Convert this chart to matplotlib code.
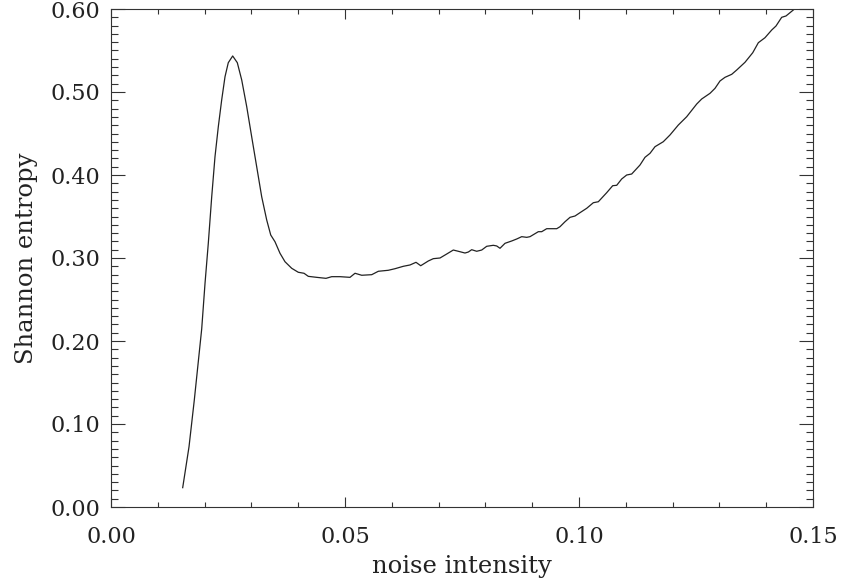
import numpy as np
import matplotlib
matplotlib.use("Agg")
import matplotlib.pyplot as plt
from matplotlib.ticker import MultipleLocator, FormatStrFormatter

# noise intensity vs Shannon entropy
noise = [0.01532, 0.01667, 0.01780, 0.01938, 0.02009, 0.02079, 0.02152, 0.02222,
         0.02293, 0.02365, 0.02436, 0.02506, 0.02600, 0.02699, 0.02793, 0.02900,
         0.03006, 0.03113, 0.03220, 0.03327, 0.03413, 0.03504, 0.03611, 0.03718,
         0.03861, 0.04002, 0.04124, 0.04216, 0.04395, 0.04594, 0.04716, 0.04893,
         0.05107, 0.05214, 0.05357, 0.05571, 0.05712, 0.05925, 0.06068, 0.06246,
         0.06389, 0.06517, 0.06618, 0.06780, 0.06887, 0.07030, 0.07173, 0.07314,
         0.07421, 0.07564, 0.07635, 0.07707, 0.07814, 0.07921, 0.08028, 0.08169,
         0.08242, 0.08312, 0.08419, 0.08562, 0.08669, 0.08776, 0.08883, 0.08953,
         0.09024, 0.09131, 0.09203, 0.09310, 0.09524, 0.09594, 0.09701, 0.09808,
         0.09915, 0.10021, 0.10165, 0.10306, 0.10413, 0.10592, 0.10720, 0.10806,
         0.10912, 0.11019, 0.11126, 0.11303, 0.11410, 0.11517, 0.11624, 0.11801,
         0.11944, 0.12122, 0.12301, 0.12515, 0.12622, 0.12799, 0.12906, 0.13013,
         0.13120, 0.13263, 0.13370, 0.13547, 0.13712, 0.13832, 0.13974, 0.14118,
         0.14209, 0.14331, 0.14423, 0.14579, 0.14658]
entropy = [0.0233, 0.0726, 0.1289, 0.2145, 0.2695, 0.3177, 0.3738, 0.4220,
           0.4582, 0.4904, 0.5184, 0.5353, 0.5434, 0.5353, 0.5145, 0.4823,
           0.4461, 0.4100, 0.3738, 0.3458, 0.3277, 0.3196, 0.3057, 0.2955,
           0.2876, 0.2828, 0.2816, 0.2779, 0.2767, 0.2755, 0.2775, 0.2775,
           0.2767, 0.2816, 0.2792, 0.2799, 0.2840, 0.2852, 0.2871, 0.2900,
           0.2916, 0.2948, 0.2907, 0.2964, 0.2992, 0.3000, 0.3048, 0.3096,
           0.3081, 0.3060, 0.3072, 0.3100, 0.3081, 0.3096, 0.3141, 0.3153,
           0.3145, 0.3117, 0.3177, 0.3205, 0.3229, 0.3257, 0.3249, 0.3257,
           0.3281, 0.3317, 0.3317, 0.3353, 0.3353, 0.3377, 0.3437, 0.3490,
           0.3506, 0.3546, 0.3599, 0.3666, 0.3678, 0.3787, 0.3871, 0.3876,
           0.3952, 0.4000, 0.4012, 0.4120, 0.4213, 0.4261, 0.4341, 0.4401,
           0.4482, 0.4602, 0.4702, 0.4855, 0.4916, 0.4984, 0.5044, 0.5133,
           0.5177, 0.5213, 0.5265, 0.5358, 0.5473, 0.5594, 0.5654, 0.5747,
           0.5795, 0.5900, 0.5916, 0.5988, 0.6024]

plt.rcParams['font.family'] = ['DejaVu Serif']

fig = plt.figure(figsize=(8.45, 5.85), dpi=100)
ax = fig.add_axes([111/845, 1 - 507/585, 702/845, 498/585])

ax.plot(noise, entropy, color='#222222', lw=0.9)

ax.set_xlim(0, 0.15)
ax.set_ylim(0, 0.6)
ax.xaxis.set_major_locator(MultipleLocator(0.05))
ax.xaxis.set_minor_locator(MultipleLocator(0.01))
ax.yaxis.set_major_locator(MultipleLocator(0.1))
ax.yaxis.set_minor_locator(MultipleLocator(0.01))
ax.xaxis.set_major_formatter(FormatStrFormatter('%.2f'))
ax.yaxis.set_major_formatter(FormatStrFormatter('%.2f'))

ax.tick_params(axis='both', which='both', direction='in', top=True, right=True,
               color='#333333', width=0.8, labelcolor='#222222')
ax.tick_params(axis='x', which='major', length=7.2, pad=14, labelsize=16)
ax.tick_params(axis='x', which='minor', length=3.6)
ax.tick_params(axis='y', which='major', length=10, pad=8, labelsize=16)
ax.tick_params(axis='y', which='minor', length=5)
for s in ax.spines.values():
    s.set_color('#333333')
    s.set_linewidth(0.8)

ax.set_xlabel('noise intensity', fontsize=17.5, labelpad=5, color='#222222')
ax.set_ylabel('Shannon entropy', fontsize=17.5, labelpad=9, color='#222222')

fig.savefig('out.png', dpi=100)
